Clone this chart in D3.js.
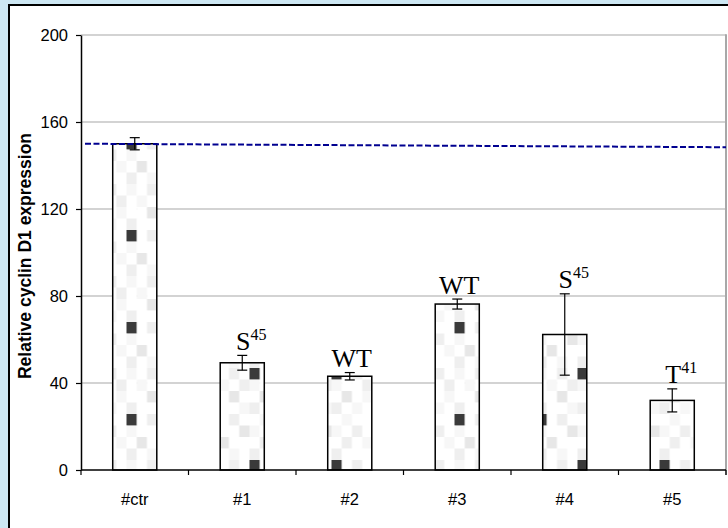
<!DOCTYPE html>
<html><head><meta charset="utf-8">
<script src="https://cdn.jsdelivr.net/npm/d3@7"></script>
<style>html,body{margin:0;padding:0;background:#cde7f3;}svg{display:block;}</style>
</head><body>
<script>
const categories = ["#ctr", "#1", "#2", "#3", "#4", "#5"];
const values = [150, 49.3, 43.1, 76.3, 62.3, 32];
const errors = [2.8, 3.4, 1.7, 2.3, 18.7, 5.3];
const labelBase = ["", "S", "WT", "WT", "S", "T"];
const labelSup = ["", "45", "", "", "45", "41"];
const yTicks = [0, 40, 80, 120, 160, 200];
const refLine = [150, 148.4];
const yTitle = "Relative cyclin D1 expression";

const W = 728, H = 528;
const svg = d3.select("body").append("svg").attr("width", W).attr("height", H);
svg.append("rect").attr("width", W).attr("height", H).attr("fill", "#cde7f3");
svg.append("rect").attr("x", 9).attr("y", 5).attr("width", 740).attr("height", 540)
  .attr("fill", "#fff").attr("stroke", "#000").attr("stroke-width", 2);

const plot = {l: 81, r: 726, t: 35, b: 470};
const x = d3.scaleBand().domain(categories).range([plot.l, plot.r]).paddingInner(0.59).paddingOuter(0.295);
const y = d3.scaleLinear().domain([0, 200]).range([plot.b, plot.t]);

// pattern
const shades = ["#ffffff", "#f7f7f7", "#efefef", "#e7e7e7"];
const grid = [
  "90201020","10020102","03010030","20102001",
  "01009020","10201003","02010300","20002010"];
const cw = 82 / 8, ch = 92 / 8;
const defs = svg.append("defs");
const pat = defs.append("pattern").attr("id", "tex").attr("patternUnits", "userSpaceOnUse")
  .attr("x", 3.5).attr("y", 0).attr("width", 82).attr("height", 92);
grid.forEach((row, r) => row.split("").forEach((c, k) => {
  const v = +c;
  pat.append("rect").attr("x", k * cw).attr("y", r * ch).attr("width", cw + 0.3).attr("height", ch + 0.3)
    .attr("fill", v === 9 ? "#3a3a3a" : shades[v]);
}));

// gridlines
svg.append("g").selectAll("line").data(yTicks.filter(d => d > 0)).join("line")
  .attr("x1", plot.l).attr("x2", plot.r).attr("y1", d => y(d)).attr("y2", d => y(d))
  .attr("stroke", "#c4c4c4").attr("stroke-width", 1.5);
svg.append("line").attr("x1", plot.r).attr("x2", plot.r).attr("y1", plot.t - 0.75).attr("y2", plot.b + 5)
  .attr("stroke", "#a8a8a8").attr("stroke-width", 2);

// bars
svg.append("g").selectAll("rect").data(categories).join("rect")
  .attr("x", d => x(d)).attr("width", x.bandwidth())
  .attr("y", (d, i) => y(values[i])).attr("height", (d, i) => y(0) - y(values[i]))
  .attr("fill", "url(#tex)").attr("stroke", "#000").attr("stroke-width", 1.5);

// reference dashed line
svg.append("line").attr("x1", plot.l + 4).attr("x2", plot.r)
  .attr("y1", y(refLine[0])).attr("y2", y(refLine[1]))
  .attr("stroke", "#000090").attr("stroke-width", 2).attr("stroke-dasharray", "6,2.5");

// error bars
const eb = svg.append("g").attr("stroke", "#000").attr("stroke-width", 1.2);
categories.forEach((c, i) => {
  const cx = x(c) + x.bandwidth() / 2;
  const hi = y(values[i] + errors[i]), lo = y(values[i] - errors[i]);
  eb.append("line").attr("x1", cx).attr("x2", cx).attr("y1", hi).attr("y2", lo);
  eb.append("line").attr("x1", cx - 5).attr("x2", cx + 5).attr("y1", hi).attr("y2", hi);
  eb.append("line").attr("x1", cx - 5).attr("x2", cx + 5).attr("y1", lo).attr("y2", lo);
});

// bar labels
categories.forEach((c, i) => {
  if (!labelBase[i]) return;
  const cx = x(c) + x.bandwidth() / 2 + (labelSup[i] ? 9 : 2);
  const t = svg.append("text").attr("x", cx).attr("y", y(values[i] + errors[i]) - 5.5)
    .attr("text-anchor", "middle").attr("font-family", "'Liberation Serif', serif")
    .attr("font-size", 26).attr("fill", "#000");
  t.append("tspan").text(labelBase[i]);
  if (labelSup[i]) t.append("tspan").attr("font-size", 16).attr("dy", -10).text(labelSup[i]);
});

// y axis
const ya = svg.append("g").attr("transform", `translate(${plot.l},0)`)
  .call(d3.axisLeft(y).tickValues(yTicks).tickSize(5).tickSizeOuter(0).tickPadding(8));
ya.select(".domain").attr("stroke", "#000").attr("stroke-width", 1.5);
ya.selectAll(".tick line").attr("stroke", "#000").attr("stroke-width", 1.2);
ya.selectAll("text").attr("font-family", "'Liberation Sans', Arial, sans-serif").attr("font-size", 16.5).attr("fill", "#000");

// x axis
const xa = svg.append("g").attr("transform", `translate(0,${plot.b})`)
  .call(d3.axisBottom(x).tickSize(0).tickPadding(23));
xa.select(".domain").attr("stroke", "#000").attr("stroke-width", 1.5).attr("d", `M${plot.l},0H${plot.r}`);
xa.selectAll("text").attr("font-family", "'Liberation Sans', Arial, sans-serif").attr("font-size", 16.5).attr("fill", "#000");
const bounds = d3.range(categories.length + 1).map(i => plot.l + i * x.step());
xa.selectAll(".bt").data(bounds).join("line").attr("class", "bt")
  .attr("x1", d => d).attr("x2", d => d).attr("y1", 0).attr("y2", 5)
  .attr("stroke", "#000").attr("stroke-width", 1.2);

// y title
svg.append("text").attr("transform", "translate(31,256) rotate(-90)")
  .attr("text-anchor", "middle").attr("font-family", "'Liberation Sans', Arial, sans-serif")
  .attr("font-weight", "bold").attr("font-size", 17.5).attr("fill", "#000").text(yTitle);
</script>
</body></html>
